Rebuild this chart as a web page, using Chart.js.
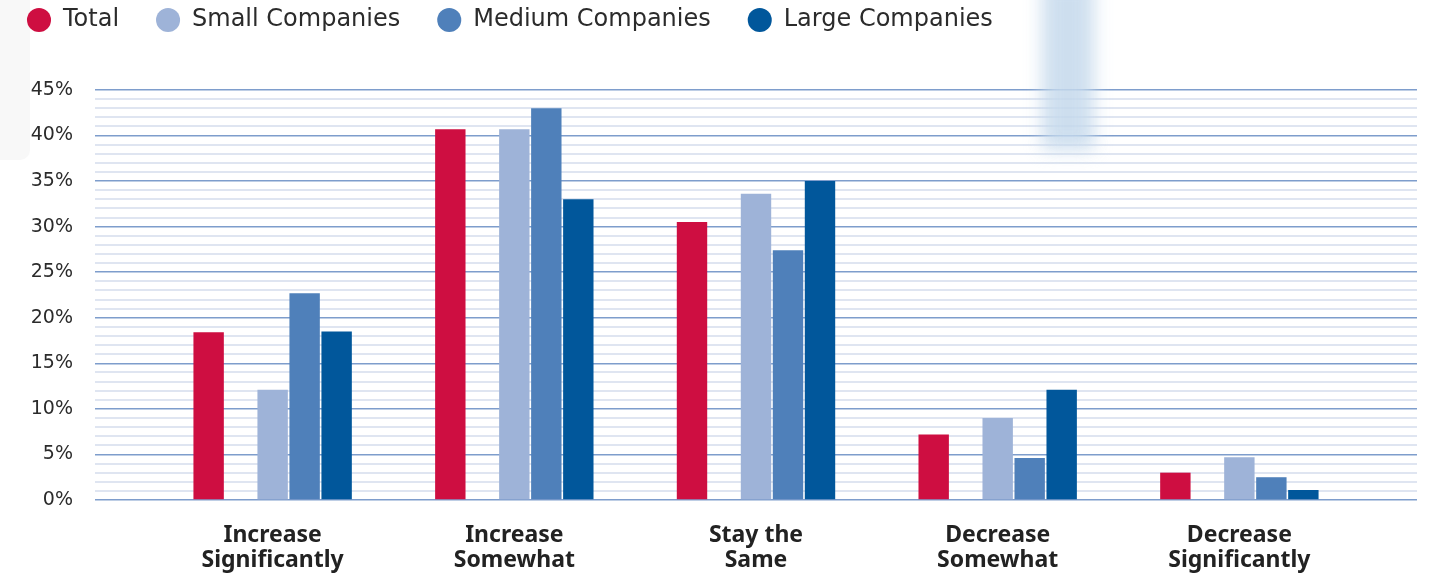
<!DOCTYPE html>
<html>
<head>
<meta charset="utf-8">
<script src="https://cdn.jsdelivr.net/npm/chart.js@4/dist/chart.umd.min.js"></script>
<style>
  html, body { margin: 0; padding: 0; background: #fff; }
  #wrap { position: relative; width: 1437px; height: 573px; overflow: hidden; }
  #leftShade { position: absolute; left: 0; top: 0; width: 30px; height: 160px; background: #f8f8f8; border-radius: 0 0 10px 0; }
  #blueBlur { position: absolute; left: 1042px; top: -20px; width: 52px; height: 170px; background: #c5d9ec; filter: blur(9px); opacity: 0.85; pointer-events: none; }
  canvas { position: absolute; left: 0; top: 0; }
</style>
</head>
<body>
<div id="wrap">
  <div id="leftShade"></div>
  <canvas id="surveyChart" width="1437" height="573"></canvas>
  <div id="blueBlur"></div>
</div>
<script>
const categories = ['Increase Significantly', 'Increase Somewhat', 'Stay the Same', 'Decrease Somewhat', 'Decrease Significantly'];
const tickLabels = [['Increase', 'Significantly'], ['Increase', 'Somewhat'], ['Stay the', 'Same'], ['Decrease', 'Somewhat'], ['Decrease', 'Significantly']];
const totalValues = [18.4, 40.7, 30.5, 7.2, 3.0];
const smallValues = [12.1, 40.7, 33.6, 9.0, 4.7];
const mediumValues = [22.7, 43.0, 27.4, 4.6, 2.5];
const largeValues = [18.5, 33.0, 35.0, 12.1, 1.1];
const yTicks = [];
for (let v = 0; v <= 45; v++) yTicks.push(v);

const textFont = '"DejaVu Sans", "Noto Sans", sans-serif';
const labelFont = '"Noto Sans", "Open Sans", sans-serif';

// bars on a linear x axis: one point per category index
const toPoints = (values) => values.map((v, i) => ({ x: i, y: v }));

// keeps a fixed gap between legend and plot
const legendSpace = {
    id: 'legendSpace',
    beforeInit(chart) {
        const fit = chart.legend.fit;
        chart.legend.fit = function () {
            fit.call(this);
            this.height = 119;
        };
    }
};

const ctx = document.getElementById('surveyChart').getContext('2d');

new Chart(ctx, {
    type: 'bar',
    data: {
        datasets: [
            { label: 'Total', data: toPoints(totalValues), backgroundColor: '#CE0E41' },
            { label: '', data: toPoints(categories.map(() => null)), backgroundColor: 'rgba(0,0,0,0)' },
            { label: 'Small Companies', data: toPoints(smallValues), backgroundColor: '#9EB3D8' },
            { label: 'Medium Companies', data: toPoints(mediumValues), backgroundColor: '#4F80BA' },
            { label: 'Large Companies', data: toPoints(largeValues), backgroundColor: '#01579B' }
        ]
    },
    options: {
        responsive: false,
        animation: false,
        categoryPercentage: 0.662,
        barPercentage: 0.95,
        layout: {
            padding: { left: -10, top: -29, right: 20, bottom: 0 }
        },
        plugins: {
            legend: {
                display: true,
                position: 'top',
                align: 'start',
                labels: {
                    usePointStyle: true,
                    pointStyle: 'circle',
                    boxHeight: 17,
                    padding: 37,
                    color: '#2b2b2b',
                    font: { family: textFont, size: 24 },
                    filter: (item) => item.text !== ''
                }
            },
            tooltip: { enabled: false }
        },
        scales: {
            x: {
                type: 'linear',
                offset: false,
                min: -0.735,
                max: 4.735,
                grid: { display: false, drawTicks: false },
                border: { display: false },
                afterBuildTicks: (scale) => {
                    scale.ticks = categories.map((_, i) => ({ value: i }));
                },
                afterFit: (scale) => { scale.height = 73; },
                ticks: {
                    autoSkip: false,
                    maxRotation: 0,
                    padding: 23,
                    color: '#222',
                    font: { family: labelFont, size: 23, weight: 'bold', lineHeight: 1.1 },
                    callback: (v) => tickLabels[v]
                }
            },
            y: {
                min: 0,
                max: 45,
                afterBuildTicks: (scale) => {
                    scale.ticks = yTicks.map(v => ({ value: v }));
                },
                afterFit: (scale) => { scale.width = 105; },
                border: { display: false },
                grid: {
                    drawTicks: false,
                    color: (c) => c.tick && c.tick.value % 5 === 0 ? '#7E9DCC' : '#DFE5F1',
                    lineWidth: (c) => c.tick && c.tick.value % 5 === 0 ? 1.5 : 2
                },
                ticks: {
                    autoSkip: false,
                    padding: 22,
                    color: '#2b2b2b',
                    font: { family: textFont, size: 19 },
                    callback: (v) => v % 5 === 0 ? v + '%' : ''
                }
            }
        }
    },
    plugins: [legendSpace]
});
</script>
</body>
</html>
